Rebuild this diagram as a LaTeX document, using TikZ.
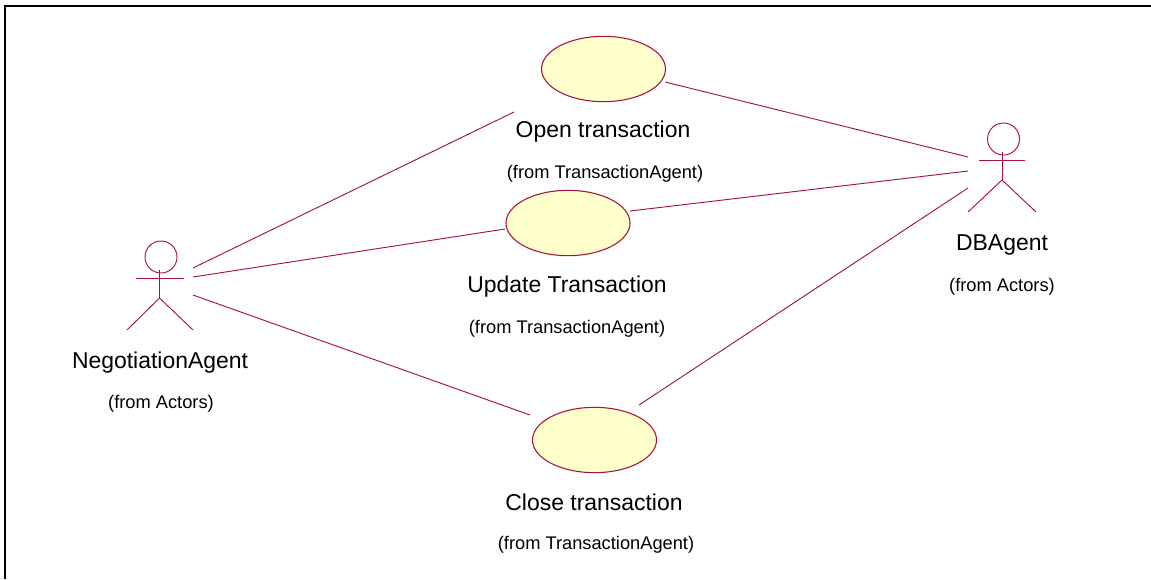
\documentclass[tikz,border=0pt]{standalone}
\usepackage{fontspec}
\setmainfont{Liberation Sans}
\usetikzlibrary{shapes.geometric}
\definecolor{umlline}{HTML}{A6123F}
\definecolor{umlfill}{HTML}{FFFFCB}
\tikzset{
  x=0.75pt,y=-0.75pt,
  conn/.style={draw=umlline,line width=0.7pt},
  usecase/.style={ellipse,draw=umlline,fill=umlfill,line width=0.8pt,minimum width=93pt,minimum height=49pt,inner sep=0pt},
  headc/.style={circle,draw=umlline,line width=0.7pt,minimum size=24pt,inner sep=0pt},
  title/.style={font=\fontsize{17.2}{20}\selectfont,inner sep=0pt,anchor=base},
  sub/.style={font=\fontsize{13.7}{16}\selectfont,inner sep=0pt,anchor=base}
}
\newcommand{\stick}[7]{% name, body x, arm y, arm half, left foot x, right foot x, head cx
  \node[headc] (#1head) at (#7,#3-21) {};
  \draw[conn] (#2,#3-8) -- (#2,#3+20);
  \draw[conn] (#2-#4,#3) -- (#2+#4,#3);
  \draw[conn] (#5,#3+52) -- (#2,#3+20) -- (#6,#3+52);
}
\begin{document}
\begin{tikzpicture}
\useasboundingbox (0,0) rectangle (1151,579);
\draw[black,line width=1.5pt] (5,579) -- (5,6) -- (1151,6);
\node[usecase] (open) at (603.5,69) {};
\node[usecase] (update) at (568,223) {};
\node[usecase] (close) at (594.5,440) {};
\stick{neg}{159.5}{278}{24}{127}{193}{161}
\stick{db}{1002}{160}{23}{968}{1036}{1003.5}
\node[title] (opent) at (603,137) {Open transaction};
\node[sub] (openf) at (605,178) {(from TransactionAgent)};
\node[title] (updt) at (567,292) {Update Transaction};
\node[sub] (updf) at (567,333) {(from TransactionAgent)};
\node[title] (clot) at (594,510) {Close transaction};
\node[sub] (clof) at (596,549) {(from TransactionAgent)};
\node[title] (negt) at (160,368) {NegotiationAgent};
\node[sub] (negf) at (161,408) {(from Actors)};
\node[title] (dbt) at (1002,250) {DBAgent};
\node[sub] (dbf) at (1002,291) {(from Actors)};
\coordinate (n1) at (193,268);
\coordinate (n2) at (193,277);
\coordinate (n3) at (193,295);
\coordinate (d1) at (968,157);
\coordinate (d2) at (968,171);
\coordinate (d3) at (968,188);
\coordinate (o1) at (514,112);
\coordinate (o2) at (665,82);
\coordinate (u1) at (505,229);
\coordinate (u2) at (630,211);
\coordinate (c1) at (530,415);
\coordinate (c2) at (639,405);
\draw[conn] (n1) -- (o1);
\draw[conn] (n2) -- (u1);
\draw[conn] (n3) -- (c1);
\draw[conn] (o2) -- (d1);
\draw[conn] (u2) -- (d2);
\draw[conn] (c2) -- (d3);
\end{tikzpicture}
\end{document}
